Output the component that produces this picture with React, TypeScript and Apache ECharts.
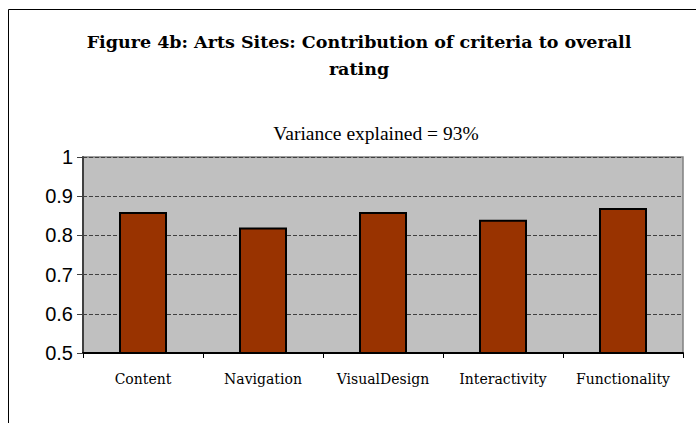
import React, { useEffect, useRef } from "react";
import * as echarts from "echarts";

const categories = ["Content", "Navigation", "VisualDesign", "Interactivity", "Functionality"];
const values = [0.86, 0.82, 0.86, 0.84, 0.87];
const titleText = "Figure 4b: Arts Sites: Contribution of criteria to overall\nrating";
const subtitleText = "Variance explained = 93%";

export default function App() {
  const ref = useRef<HTMLDivElement>(null);
  useEffect(() => {
    document.body.style.margin = "0";
    const chart = echarts.init(ref.current!, null, { renderer: "svg" });
    chart.setOption({
      animation: false,
      backgroundColor: "#ffffff",
      graphic: [
        {
          type: "rect",
          z: -10,
          silent: true,
          shape: { x: 8.5, y: 9.5, width: 720, height: 440 },
          style: { fill: "#ffffff", stroke: "#000000", lineWidth: 1 },
        },
      ],
      title: [
        {
          text: titleText,
          left: 354,
          top: 23,
          textAlign: "center",
          textStyle: {
            fontFamily: "DejaVu Serif",
            fontWeight: "bold",
            fontSize: 17.5,
            lineHeight: 27,
            color: "#000000",
          },
        },
        {
          text: subtitleText,
          left: 371,
          top: 116,
          textAlign: "center",
          textStyle: {
            fontFamily: "Liberation Serif",
            fontWeight: "normal",
            fontSize: 19.5,
            lineHeight: 24,
            color: "#000000",
          },
        },
      ],
      grid: {
        left: 83,
        top: 157,
        right: 13,
        bottom: 70,
        show: true,
        backgroundColor: "#c0c0c0",
        borderColor: "#808080",
        borderWidth: 1.5,
      },
      xAxis: {
        type: "category",
        data: categories,
        axisLine: { show: true, lineStyle: { color: "#000000", width: 2 } },
        axisTick: { show: true, interval: 0, length: 5, alignWithLabel: false, lineStyle: { color: "#000000", width: 1 } },
        axisLabel: {
          interval: 0,
          hideOverlap: false,
          margin: 19,
          fontFamily: "DejaVu Serif",
          fontSize: 14,
          color: "#000000",
        },
        splitLine: { show: false },
      },
      yAxis: {
        type: "value",
        min: 0.5,
        max: 1,
        interval: 0.1,
        axisLine: { show: true, lineStyle: { color: "#404040", width: 2 } },
        axisTick: { show: true, length: 6, lineStyle: { color: "#404040", width: 1 } },
        axisLabel: {
          margin: 10,
          fontFamily: "Liberation Sans",
          fontSize: 20,
          color: "#000000",
        },
        splitLine: { show: true, lineStyle: { color: "#404040", type: [4, 2], width: 1 } },
      },
      series: [
        {
          type: "bar",
          data: values,
          barWidth: "40%",
          itemStyle: { color: "#993300", borderColor: "#000000", borderWidth: 2 },
        },
      ],
    });
    return () => chart.dispose();
  }, []);
  return <div ref={ref} style={{ width: 696, height: 423 }} />;
}
